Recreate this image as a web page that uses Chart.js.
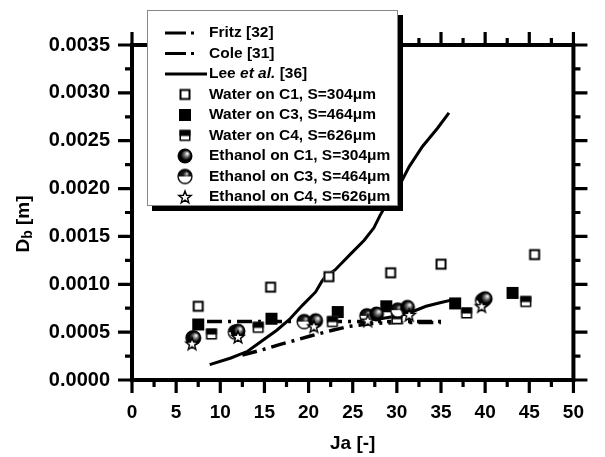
<!DOCTYPE html>
<html lang="en">
<head>
<meta charset="UTF-8">
<title>Db x Ja</title>
<script src="https://cdn.jsdelivr.net/npm/chart.js"></script>
<style>
    body { margin: 0; background: #fff; }
    .janela { width: 605px; height: 457px; position: relative; }
</style>
</head>
<body>
<div class="janela"><canvas id="grafico"></canvas></div>

<script>
    // pontos medidos
    const jaAguaC1 = [7.5, 15.7, 22.3, 29.3, 35.0, 45.6];
    const dbAguaC1 = [0.00077, 0.00097, 0.00108, 0.00112, 0.00121, 0.00131];

    const jaAguaC3 = [7.5, 15.8, 23.3, 28.8, 36.6, 43.1];
    const dbAguaC3 = [0.00058, 0.00064, 0.00071, 0.00077, 0.00080, 0.00091];

    const jaAguaC4 = [9.0, 14.3, 22.7, 30.0, 37.9, 44.6];
    const dbAguaC4 = [0.00048, 0.00055, 0.00061, 0.00064, 0.00070, 0.00082];

    const jaEtanolC1 = [7.0, 12.0, 20.8, 27.7, 31.2, 40.0];
    const dbEtanolC1 = [0.00044, 0.00051, 0.00062, 0.00069, 0.00076, 0.00085];

    const jaEtanolC3 = [6.9, 11.7, 19.5, 26.6, 30.1, 39.7];
    const dbEtanolC3 = [0.00044, 0.00050, 0.00061, 0.00067, 0.00073, 0.00083];

    const jaEtanolC4 = [6.8, 12.0, 20.6, 26.7, 31.4, 39.6];
    const dbEtanolC4 = [0.00038, 0.00045, 0.00056, 0.00062, 0.00068, 0.00077];

    // correlacoes
    const jaFritz = [8.5, 35.1];
    const dbFritz = [0.00061, 0.00061];

    const jaCole = [12.5, 14.9, 16.7, 18.3, 20.2, 22.7, 24.6, 27.0, 30.0, 35.0];
    const dbCole = [0.00026, 0.00032, 0.00037, 0.00041, 0.00046, 0.00052, 0.00056, 0.00059, 0.00060, 0.00060];

    const jaLee = [8.8, 11.2, 13.1, 14.9, 16.4, 17.8, 19.3, 20.8, 21.5, 21.9, 23.0, 24.8, 26.3, 27.4, 28.1, 28.9, 30.0, 31.4, 32.9, 34.6, 35.9];
    const dbLee = [0.00016, 0.00023, 0.00030, 0.00042, 0.00052, 0.00063, 0.00078, 0.00092, 0.00103, 0.00108, 0.00115, 0.00132, 0.00146, 0.00159, 0.00172, 0.00185, 0.00198, 0.00223, 0.00244, 0.00263, 0.00279];

    const jaLee2 = [27.5, 29.5, 31.1, 33.3, 35.0, 36.4];
    const dbLee2 = [0.00063, 0.00066, 0.00069, 0.00077, 0.00081, 0.00084];

    const legendas = ['Fritz [32]', 'Cole [31]', 'Lee et al. [36]',
        'Water on C1, S=304μm', 'Water on C3, S=464μm', 'Water on C4, S=626μm',
        'Ethanol on C1, S=304μm', 'Ethanol on C3, S=464μm', 'Ethanol on C4, S=626μm'];

    const fonte = "'Liberation Sans', Arial, sans-serif";
    const tracoPonto = [15, 6, 3, 6];

    function pares(xs, ys) {
        return xs.map(function (v, i) { return { x: v, y: ys[i] }; });
    }

    function marcador(tipo) {
        const c = document.createElement('canvas');
        c.width = 18; c.height = 18;
        const g = c.getContext('2d');
        const m = 9;
        g.strokeStyle = '#000';
        if (tipo === 'quadradoAberto') {
            g.fillStyle = '#fff';
            g.fillRect(m - 5.5, m - 5.5, 11, 11);
            g.lineWidth = 2;
            g.strokeRect(m - 4.5, m - 4.5, 9, 9);
        } else if (tipo === 'quadradoCheio') {
            g.fillStyle = '#000';
            g.fillRect(m - 6, m - 6, 12, 12);
        } else if (tipo === 'quadradoMeio') {
            g.fillStyle = '#fff';
            g.fillRect(m - 5.5, m - 5.5, 11, 11);
            g.fillStyle = '#000';
            g.fillRect(m - 5.5, m - 5.5, 11, 6);
            g.lineWidth = 1.5;
            g.strokeRect(m - 4.75, m - 4.75, 9.5, 9.5);
        } else if (tipo === 'esfera') {
            const grad = g.createRadialGradient(m + 2.5, m - 2.5, 0.5, m, m, 7.5);
            grad.addColorStop(0, '#f0f0f0');
            grad.addColorStop(0.3, '#707070');
            grad.addColorStop(0.65, '#000');
            g.fillStyle = grad;
            g.beginPath(); g.arc(m, m, 7.5, 0, Math.PI * 2); g.fill();
        } else if (tipo === 'meiaEsfera') {
            g.fillStyle = '#fff';
            g.beginPath(); g.arc(m, m, 7, 0, Math.PI * 2); g.fill();
            const grad = g.createRadialGradient(m + 2, m - 3, 0.5, m, m, 7);
            grad.addColorStop(0, '#bbb');
            grad.addColorStop(0.35, '#222');
            grad.addColorStop(1, '#000');
            g.fillStyle = grad;
            g.beginPath(); g.arc(m, m, 7, Math.PI, Math.PI * 2); g.closePath(); g.fill();
            g.lineWidth = 1.3;
            g.beginPath(); g.arc(m, m, 7, 0, Math.PI * 2); g.stroke();
        } else if (tipo === 'estrela') {
            g.fillStyle = '#fff';
            g.lineWidth = 1.4;
            g.beginPath();
            for (let i = 0; i < 10; i++) {
                const r = i % 2 === 0 ? 6.5 : 2.7;
                const a = -Math.PI / 2 + i * Math.PI / 5;
                const px = m + r * Math.cos(a), py = m + 0.5 + r * Math.sin(a);
                if (i === 0) g.moveTo(px, py); else g.lineTo(px, py);
            }
            g.closePath(); g.fill(); g.stroke();
        }
        return c;
    }

    const simbolos = {
        quadradoAberto: marcador('quadradoAberto'),
        quadradoCheio: marcador('quadradoCheio'),
        quadradoMeio: marcador('quadradoMeio'),
        esfera: marcador('esfera'),
        meiaEsfera: marcador('meiaEsfera'),
        estrela: marcador('estrela')
    };

    // moldura com ticks para fora nos 4 lados
    const eixos = {
        id: 'eixos',
        afterDatasetsDraw(chart) {
            const ctx = chart.ctx, a = chart.chartArea;
            const sx = chart.scales.x, sy = chart.scales.y;
            ctx.save();
            ctx.strokeStyle = '#000';
            ctx.lineWidth = 4;
            ctx.strokeRect(a.left, a.top, a.right - a.left, a.bottom - a.top);
            ctx.lineWidth = 3.2;
            ctx.beginPath();
            for (let v = 0; v <= 50; v += 2.5) {
                const px = sx.getPixelForValue(v);
                const t = v % 5 === 0 ? 13 : 7;
                ctx.moveTo(px, a.bottom); ctx.lineTo(px, a.bottom + t);
                ctx.moveTo(px, a.top); ctx.lineTo(px, a.top - t);
            }
            for (let i = 0; i <= 14; i++) {
                const py = sy.getPixelForValue(i * 0.00025);
                const t = i % 2 === 0 ? 14 : 7;
                ctx.moveTo(a.left, py); ctx.lineTo(a.left - t, py);
                ctx.moveTo(a.right, py); ctx.lineTo(a.right + t, py);
            }
            ctx.stroke();

            // titulo do eixo y com subscrito
            ctx.fillStyle = '#000';
            ctx.translate(29, 224);
            ctx.rotate(-Math.PI / 2);
            ctx.textBaseline = 'alphabetic';
            ctx.font = 'bold 19px ' + fonte;
            const wD = ctx.measureText('D').width;
            const wM = ctx.measureText(' [m]').width;
            ctx.font = 'bold 14px ' + fonte;
            const wb = ctx.measureText('b').width;
            let x0 = -(wD + wb + wM) / 2;
            ctx.font = 'bold 19px ' + fonte;
            ctx.fillText('D', x0, 0);
            ctx.font = 'bold 14px ' + fonte;
            ctx.fillText('b', x0 + wD, 3);
            ctx.font = 'bold 19px ' + fonte;
            ctx.fillText(' [m]', x0 + wD + wb, 0);
            ctx.restore();
        }
    };

    const legenda = {
        id: 'legenda',
        afterDraw(chart) {
            const ctx = chart.ctx;
            ctx.save();
            ctx.fillStyle = '#000';
            ctx.fillRect(152, 15, 251, 196);
            ctx.fillStyle = '#fff';
            ctx.fillRect(147, 10, 251, 196);
            ctx.strokeStyle = '#888';
            ctx.lineWidth = 1;
            ctx.strokeRect(147.5, 10.5, 250, 195);

            const tipos = ['fritz', 'cole', 'lee', 'quadradoAberto', 'quadradoCheio', 'quadradoMeio', 'esfera', 'meiaEsfera', 'estrela'];
            ctx.textBaseline = 'middle';
            for (let i = 0; i < legendas.length; i++) {
                const y = 33 + i * 20.5;
                ctx.strokeStyle = '#000';
                ctx.lineWidth = 3;
                if (tipos[i] === 'fritz' || tipos[i] === 'cole') {
                    ctx.beginPath();
                    ctx.moveTo(165, y); ctx.lineTo(186, y);
                    ctx.moveTo(191, y); ctx.lineTo(194, y);
                    ctx.stroke();
                } else if (tipos[i] === 'lee') {
                    ctx.beginPath();
                    ctx.moveTo(165, y); ctx.lineTo(207, y);
                    ctx.stroke();
                } else {
                    const img = simbolos[tipos[i]];
                    ctx.drawImage(img, 185 - img.width / 2, y - img.height / 2);
                }
                ctx.fillStyle = '#000';
                let x = 209;
                if (tipos[i] === 'lee') {
                    ctx.font = 'bold 15.5px ' + fonte;
                    ctx.fillText('Lee ', x, y); x += ctx.measureText('Lee ').width;
                    ctx.font = 'italic bold 15.5px ' + fonte;
                    ctx.fillText('et al.', x, y); x += ctx.measureText('et al.').width;
                    ctx.font = 'bold 15.5px ' + fonte;
                    ctx.fillText(' [36]', x, y);
                } else {
                    ctx.font = 'bold 15.5px ' + fonte;
                    ctx.fillText(legendas[i], x, y);
                }
            }
            ctx.restore();
        }
    };

    function desenharGrafico() {
        const linha = { showLine: true, pointRadius: 0, borderColor: '#000', fill: false, tension: 0, order: 10 };
        const config = {
            type: 'scatter',
            data: {
                datasets: [
                    Object.assign({ label: legendas[0], data: pares(jaFritz, dbFritz), borderWidth: 3.5, borderDash: tracoPonto }, linha),
                    Object.assign({ label: legendas[1], data: pares(jaCole, dbCole), borderWidth: 3.5, borderDash: tracoPonto }, linha),
                    Object.assign({ label: legendas[2], data: pares(jaLee, dbLee), borderWidth: 3 }, linha),
                    Object.assign({ label: 'Lee 2', data: pares(jaLee2, dbLee2), borderWidth: 3 }, linha),
                    { label: legendas[3], data: pares(jaAguaC1, dbAguaC1), pointStyle: simbolos.quadradoAberto, pointRadius: 6, order: 5 },
                    { label: legendas[4], data: pares(jaAguaC3, dbAguaC3), pointStyle: simbolos.quadradoCheio, pointRadius: 6, order: 5 },
                    { label: legendas[5], data: pares(jaAguaC4, dbAguaC4), pointStyle: simbolos.quadradoMeio, pointRadius: 6, order: 4 },
                    { label: legendas[6], data: pares(jaEtanolC1, dbEtanolC1), pointStyle: simbolos.esfera, pointRadius: 7, order: 2 },
                    { label: legendas[7], data: pares(jaEtanolC3, dbEtanolC3), pointStyle: simbolos.meiaEsfera, pointRadius: 7, order: 3 },
                    { label: legendas[8], data: pares(jaEtanolC4, dbEtanolC4), pointStyle: simbolos.estrela, pointRadius: 6, order: 1 }
                ]
            },
            options: {
                responsive: true,
                maintainAspectRatio: false,
                animation: false,
                layout: { padding: { left: 0, top: 45, right: 20, bottom: 0 } },
                plugins: { legend: { display: false }, tooltip: { enabled: false } },
                scales: {
                    x: {
                        type: 'linear', min: 0, max: 50,
                        afterFit: function (s) { s.height = 77; },
                        grid: { display: false, drawTicks: false },
                        border: { display: false },
                        ticks: { stepSize: 5, color: '#000', padding: 21, maxRotation: 0, autoSkip: false,
                            font: { family: fonte, size: 19, weight: 'bold' } },
                        title: { display: true, text: 'Ja [-]', color: '#000', padding: { top: 0, bottom: 2 },
                            font: { family: fonte, size: 19, weight: 'bold' } }
                    },
                    y: {
                        min: 0, max: 0.0035,
                        afterFit: function (s) { s.width = 132; },
                        grid: { display: false, drawTicks: false },
                        border: { display: false },
                        ticks: { stepSize: 0.0005, color: '#000', padding: 22, autoSkip: false,
                            callback: function (v) { return Number(v).toFixed(4); },
                            font: { family: fonte, size: 20, weight: 'bold' } }
                    }
                }
            },
            plugins: [eixos, legenda]
        };
        new Chart(document.getElementById('grafico'), config);
    }

    desenharGrafico();
</script>
</body>
</html>
